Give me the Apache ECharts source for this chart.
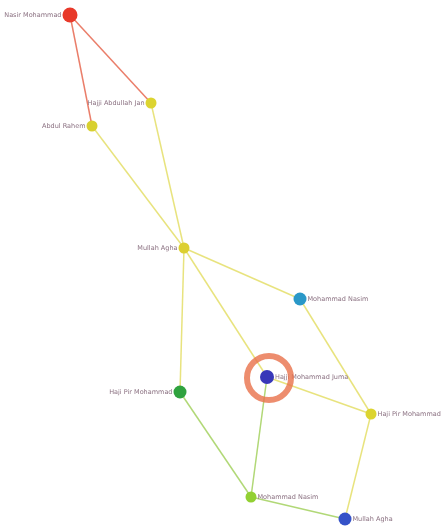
<!DOCTYPE html>
<html>
<head>
<meta charset="utf-8">
<script src="https://cdn.jsdelivr.net/npm/echarts@6/dist/echarts.min.js"></script>
<style>
  html, body { margin: 0; padding: 0; background: #fff; }
  #chart { width: 444px; height: 526px; }
</style>
</head>
<body>
<div id="chart"></div>
<script>
// node names, layout positions, colours, sizes, label side
var names = ["Nasir Mohammad", "Hajji Abdullah Jan", "Abdul Rahem", "Mullah Agha",
  "Mohammad Nasim", "Hajji Mohammad Juma", "Haji Pir Mohammad", "Haji Pir Mohammad ",
  "Mohammad Nasim ", "Mullah Agha "];
var posX = [70, 151, 92, 184, 300, 267, 180, 371, 251, 345];
var posY = [15, 103, 126, 248, 299, 377, 392, 414, 497, 519];
var nodeColors = ["#e8392a", "#dcd430", "#d8d030", "#dccf30", "#2a98c8", "#3838b8",
  "#2fa23e", "#dcd430", "#92d032", "#3552c8"];
var nodeSizes = [15, 11, 11, 11, 13, 14, 13, 11, 11, 13];
var labelSide = ["left", "left", "left", "left", "right", "right", "left", "right", "right", "right"];

// edges as [source, target]
var links = [
  [0, 1], [0, 2], [2, 3], [1, 3], [3, 4], [3, 5], [3, 6],
  [4, 7], [5, 7], [5, 8], [6, 8], [8, 9], [7, 9]
];
var edgeColors = ["#e8705a", "#e8705a", "#e6e070", "#e6e070", "#e6e070", "#e6e070", "#e6e070",
  "#e6e070", "#e6e070", "#a8d468", "#a8d468", "#a8d468", "#e6e070"];

// highlighted node (red ring)
var ringNode = 5;

var chart = echarts.init(document.getElementById("chart"));

var nodes = names.map(function (n, i) {
  return {
    name: n,
    value: [posX[i], posY[i]],
    symbolSize: nodeSizes[i],
    itemStyle: { color: nodeColors[i] },
    label: { position: labelSide[i] }
  };
});

var edges = links.map(function (l, i) {
  return {
    source: l[0],
    target: l[1],
    lineStyle: { color: edgeColors[i] }
  };
});

chart.setOption({
  backgroundColor: "#ffffff",
  animation: false,
  grid: { left: 0, right: 0, top: 0, bottom: 0 },
  xAxis: { type: "value", min: 0, max: 444, show: false },
  yAxis: { type: "value", min: 0, max: 526, inverse: true, show: false },
  series: [
    {
      type: "graph",
      layout: "none",
      coordinateSystem: "cartesian2d",
      data: nodes,
      links: edges,
      label: {
        show: true,
        fontSize: 6.5,
        color: "#8a7080",
        fontFamily: "DejaVu Sans",
        distance: 1,
        formatter: function (p) { return p.name.trim(); }
      },
      lineStyle: { width: 1.5, opacity: 0.9 },
      z: 2
    },
    {
      type: "scatter",
      data: [[posX[ringNode] + 2, posY[ringNode] + 1]],
      symbol: "circle",
      symbolSize: 44,
      itemStyle: {
        color: "rgba(0,0,0,0)",
        borderColor: "#e8704a",
        borderWidth: 6
      },
      silent: true,
      z: 3
    }
  ]
});
</script>
</body>
</html>
